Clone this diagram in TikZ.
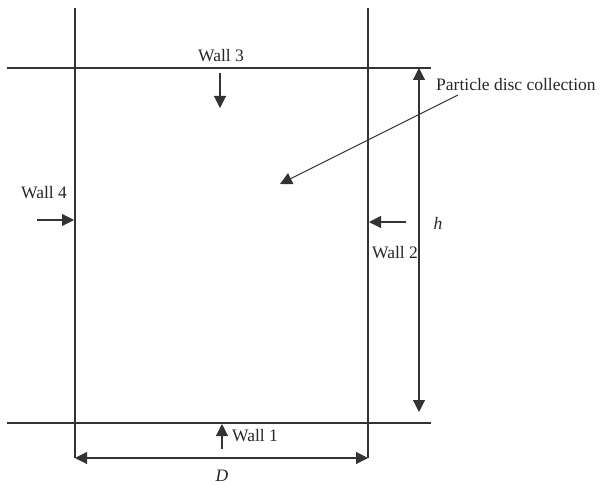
\documentclass[tikz,border=0pt]{standalone}
\usepackage{fontspec}
\setmainfont{Liberation Serif}
\usetikzlibrary{arrows.meta}
\begin{document}
\begin{tikzpicture}[x=1pt,y=-1pt,
  ln/.style={line width=1.1pt,draw=black!80},
  arr/.style={ln,-{Triangle[length=12pt,width=12pt]}},
  darr/.style={ln,{Triangle[length=12pt,width=12pt]}-{Triangle[length=12pt,width=12pt]}},
  lbl/.style={inner sep=0pt,font=\fontsize{17.5}{20}\selectfont,text=black!85}]
\useasboundingbox (0,0) rectangle (605,486);
% walls
\coordinate (lt) at (75,8);   \coordinate (lb) at (75,458);
\coordinate (rt) at (368,8);  \coordinate (rb) at (368,458);
\coordinate (tl) at (7,68);   \coordinate (tr) at (431,68);
\coordinate (bl) at (7,423);  \coordinate (br) at (431,423);
\draw[ln] (lt) -- (lb);
\draw[ln] (rt) -- (rb);
\draw[ln] (tl) -- (tr);
\draw[ln] (bl) -- (br);
% h dimension
\coordinate (ht) at (419,68); \coordinate (hb) at (419,412);
\draw[darr] (ht) -- (hb);
\node[lbl] (h) at (438,223) {\textit{h}};
% D dimension
\draw[darr] (lb) -- (rb);
\node[lbl] (D) at (222,476) {\textit{D}};
% Wall 3
\node[lbl] (w3) at (221,56) {Wall 3};
\coordinate (w3a) at (220,73); \coordinate (w3b) at (220,108);
\draw[arr] (w3a) -- (w3b);
% Wall 4
\node[lbl] (w4) at (44,193) {Wall 4};
\coordinate (w4a) at (37,220); \coordinate (w4b) at (74,220);
\draw[arr] (w4a) -- (w4b);
% Wall 2
\node[lbl] (w2) at (395,253) {Wall 2};
\coordinate (w2a) at (406,222); \coordinate (w2b) at (369,222);
\draw[arr] (w2a) -- (w2b);
% Wall 1
\node[lbl,anchor=west] (w1) at (232,436) {Wall 1};
\coordinate (w1a) at (222,449); \coordinate (w1b) at (222,424);
\draw[arr] (w1a) -- (w1b);
% Particle disc collection
\node[lbl,anchor=west] (pdc) at (436,85) {Particle disc collection};
\coordinate (pa) at (458,95); \coordinate (pb) at (280,184);
\draw[arr] (pa) -- (pb);
\end{tikzpicture}
\end{document}
